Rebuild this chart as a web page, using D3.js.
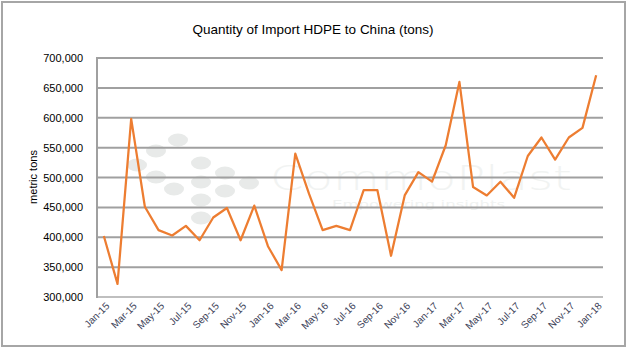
<!DOCTYPE html>
<html><head><meta charset="utf-8">
<script src="https://cdn.jsdelivr.net/npm/d3@7"></script>
<style>
html,body{margin:0;padding:0;background:#fff;}
svg{display:block;}
</style></head>
<body>
<svg id="chart" width="628" height="350"></svg>
<script>
const title = "Quantity of Import HDPE to China (tons)";
const yAxisTitle = "metric tons";
const months = ["Jan-15","Feb-15","Mar-15","Apr-15","May-15","Jun-15","Jul-15","Aug-15","Sep-15","Oct-15","Nov-15","Dec-15",
  "Jan-16","Feb-16","Mar-16","Apr-16","May-16","Jun-16","Jul-16","Aug-16","Sep-16","Oct-16","Nov-16","Dec-16",
  "Jan-17","Feb-17","Mar-17","Apr-17","May-17","Jun-17","Jul-17","Aug-17","Sep-17","Oct-17","Nov-17","Dec-17","Jan-18"];
const importTons = [402000,322000,598000,451000,412000,403000,419000,395000,433000,449000,395000,453000,
  385000,345000,540000,473000,412000,419000,412000,479000,479000,369000,470000,509000,
  493000,554000,660000,484000,470000,493000,466000,536000,567000,530000,567000,583000,671000];
const yTicks = [300000,350000,400000,450000,500000,550000,600000,650000,700000];
const xTickLabels = months.filter((d,i)=>i%2===0);

const svg = d3.select("#chart");
const W = 628, H = 350;
const plot = {left:97, right:603, top:58, bottom:297};

// outer border
svg.append("rect").attr("x",2).attr("y",2).attr("width",W-5).attr("height",H-6)
  .attr("fill","#fff").attr("stroke","#a6a6a6").attr("stroke-width",2);

const x = d3.scaleBand().domain(months).range([plot.left, plot.right]);
const y = d3.scaleLinear().domain([300000,700000]).range([plot.bottom, plot.top]);

// watermark
const wm = svg.append("g");
const dots = [[178,140],[156,151],[137,165],[156,177],[174,189],[201,163],[201,182],[201,200],[201,218],[225,173],[225,191],[249,183]];
wm.selectAll("ellipse").data(dots).join("ellipse")
  .attr("cx",d=>d[0]).attr("cy",d=>d[1]).attr("rx",10).attr("ry",6.5).attr("fill","#e8eae9");
wm.append("text").attr("x",270).attr("y",190).attr("font-family","DejaVu Sans").attr("font-weight","300")
  .attr("font-size",34).attr("fill","#f1f3f2").attr("textLength",302).attr("lengthAdjust","spacingAndGlyphs").text("CommoPlast");
wm.append("text").attr("x",332).attr("y",208).attr("font-family","DejaVu Sans")
  .attr("font-size",10).attr("fill","#f0f2f1").attr("textLength",173).attr("lengthAdjust","spacingAndGlyphs").text("Empowering insights");

// gridlines
svg.append("g").selectAll("line").data(yTicks).join("line")
  .attr("x1",plot.left).attr("x2",plot.right).attr("y1",d=>y(d)).attr("y2",d=>y(d))
  .attr("stroke",d=>d===300000?"#bfbfbf":"#a0a0a0").attr("stroke-width",2);
// left axis line
svg.append("line").attr("x1",plot.left).attr("x2",plot.left).attr("y1",plot.top-1).attr("y2",plot.bottom+1)
  .attr("stroke","#a0a0a0").attr("stroke-width",2);

// y axis
const yAxis = d3.axisLeft(y).tickValues(yTicks).tickFormat(d3.format(",")).tickSize(0).tickPadding(14);
const ya = svg.append("g").attr("transform",`translate(${plot.left},0)`).call(yAxis);
ya.select(".domain").remove();
ya.selectAll("text").attr("font-family","Liberation Sans, Arial, sans-serif").attr("font-size",11).attr("fill","#000");

// x axis
const xAxis = d3.axisBottom(x).tickValues(xTickLabels).tickSize(0).tickPadding(0);
const xa = svg.append("g").attr("transform",`translate(0,${plot.bottom+6})`).call(xAxis);
xa.select(".domain").remove();
xa.selectAll("text").attr("font-family","Liberation Sans, Arial, sans-serif").attr("font-size",10).attr("fill","#3c4258")
  .attr("text-anchor","end").attr("dy","0.7em").attr("dx","0.2em").attr("transform","rotate(-45)");

// line
const line = d3.line().x(d=>x(d.m)+x.bandwidth()/2).y(d=>y(d.v));
svg.append("path").datum(months.map((m,i)=>({m, v:importTons[i]})))
  .attr("d",line).attr("fill","none").attr("stroke","#ed7d31").attr("stroke-width",2.25).attr("stroke-linejoin","round");

// titles
svg.append("text").attr("x",313).attr("y",34).attr("text-anchor","middle")
  .attr("font-family","Liberation Sans, Arial, sans-serif").attr("font-size",13.5).attr("fill","#000").text(title);
svg.append("text").attr("transform","translate(37,177) rotate(-90)").attr("text-anchor","middle")
  .attr("font-family","Liberation Sans, Arial, sans-serif").attr("font-size",11).attr("fill","#000").text(yAxisTitle);
</script>
</body></html>
